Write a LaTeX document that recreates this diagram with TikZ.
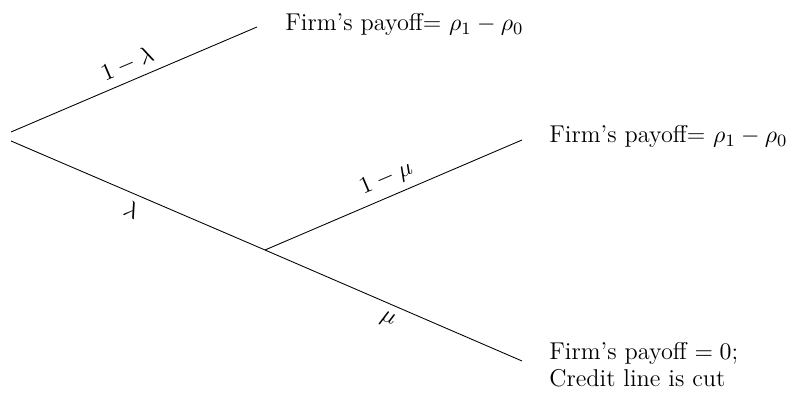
\documentclass[tikz,border=0pt]{standalone}
\begin{document}
\begin{tikzpicture}[x=0.4608pt,y=0.4608pt,
  font=\fontsize{11.2}{12.4}\selectfont,
  branch/.style={line width=0.4pt},
  lab/.style={midway,sloped},
  leaf/.style={anchor=base west,inner sep=0pt}]
\useasboundingbox (0,0) rectangle (798,397);
\coordinate (r1) at (11,265);
\coordinate (r2) at (11,256);
\coordinate (e1) at (257,370);
\coordinate (j) at (265,147);
\coordinate (e2) at (522,257);
\coordinate (e3) at (522,36);
\draw[branch] (r1) -- node[lab,above]{$1-\lambda$} (e1);
\draw[branch] (r2) -- node[lab,below]{$\lambda$} (j);
\draw[branch] (j) -- node[lab,above]{$1-\mu$} (e2);
\draw[branch] (j) -- node[lab,below]{$\mu$} (e3);
\node[leaf] (t1) at (285,366) {Firm's payoff= $\rho_1-\rho_0$};
\node[leaf] (t2) at (549,254) {Firm's payoff= $\rho_1-\rho_0$};
\node[leaf] (t3) at (549,37) {Firm's payoff $=0$;};
\node[leaf] (t3b) at (549,10) {Credit line is cut};
\end{tikzpicture}
\end{document}
